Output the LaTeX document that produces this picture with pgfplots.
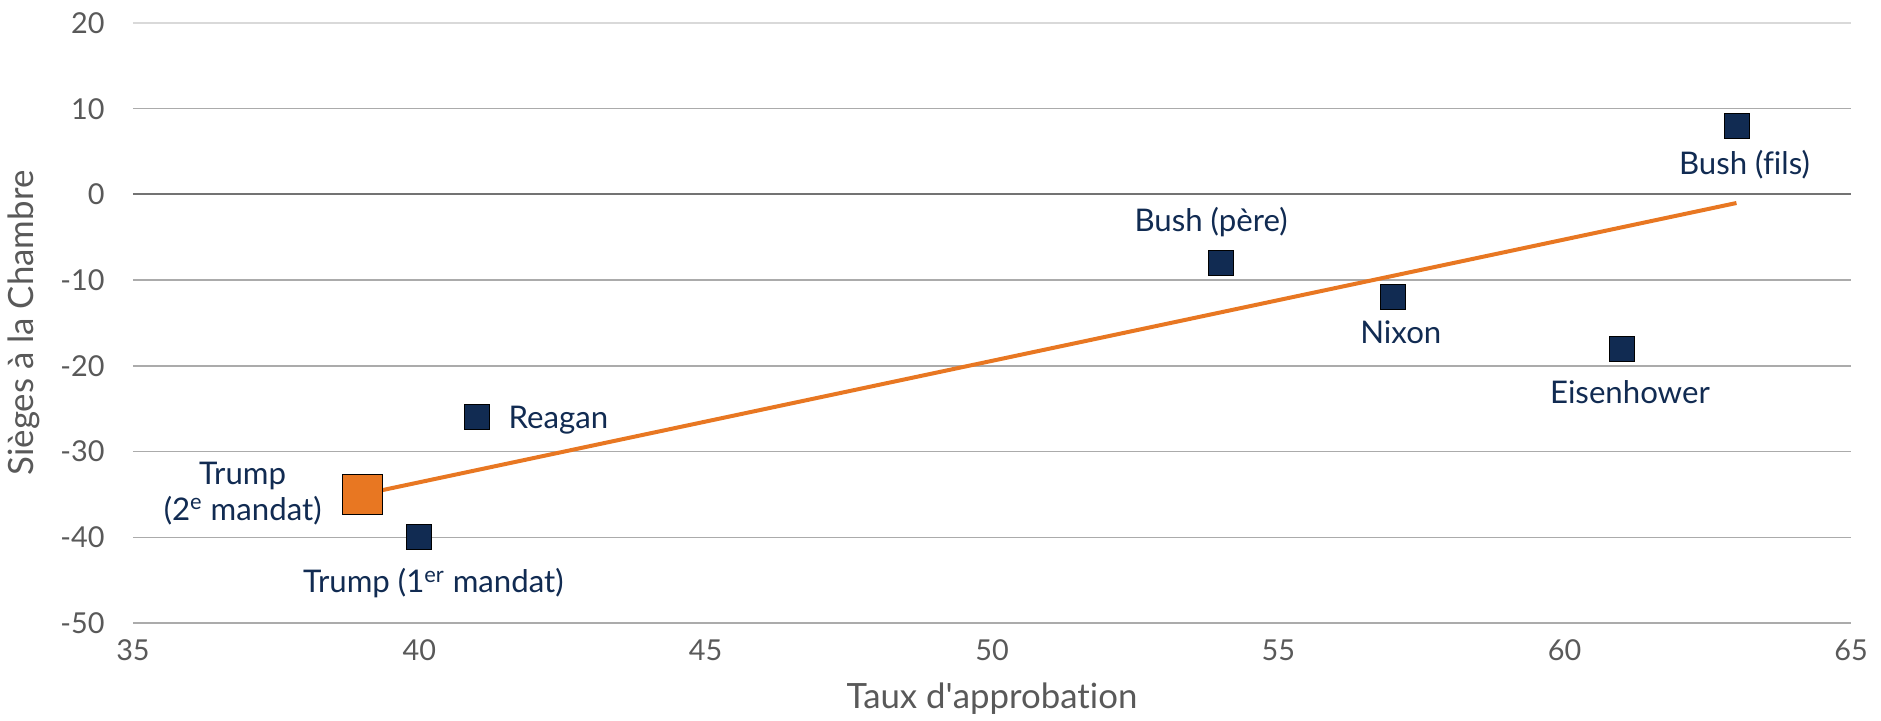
\documentclass[border=0pt]{standalone}
\usepackage{fontspec}
\setmainfont[Ligatures=NoCommon]{Lato}
\usepackage{pgfplots}
\pgfplotsset{compat=1.18}
\definecolor{navy}{HTML}{112B52}
\definecolor{orng}{HTML}{E87722}
\definecolor{tickgray}{HTML}{595959}
\definecolor{gridgray}{HTML}{ABABAB}
\definecolor{toplight}{HTML}{D9D9D9}
\definecolor{zerogray}{HTML}{737373}
\begin{document}
\begin{tikzpicture}
\path[use as bounding box] (-66.5pt,-49pt) rectangle ++(940.5pt,360.5pt);
\begin{axis}[
  at={(0,0)}, anchor=south west,
  scale only axis, width=859pt, height=300pt,
  xmin=35, xmax=65, ymin=-50, ymax=20,
  xtick={35,40,...,65}, ytick={-50,-40,...,10},
  extra y ticks={20},
  extra y tick style={grid style={toplight, line width=0.75pt}},
  ymajorgrids, grid style={gridgray, line width=0.75pt},
  axis line style={draw=none}, tick style={draw=none},
  /pgf/number format/assume math mode=true,
  ticklabel style={font=\fontsize{14.4}{17}\selectfont, text=tickgray},
  yticklabel style={anchor=east, inner sep=0pt, xshift=-14pt},
  xticklabel style={anchor=north, inner sep=0pt, yshift=-8pt},
  clip=false,
]
\draw[zerogray, line width=1pt] (axis cs:35,0) -- (axis cs:65,0);
% trend line
\addplot[orng, line width=2pt, no markers] coordinates {(39,-35) (63,-1)};
% presidents
\addplot[only marks, mark=square*, mark size=6.25pt, mark options={fill=navy, draw=none}] coordinates {
  (40,-40) (41,-26) (54,-8) (57,-12) (61,-18) (63,8)
};
% Trump 2nd term
\addplot[only marks, mark=square*, mark size=10pt, mark options={fill=orng, draw=none}] coordinates {(39,-35)};
\begin{scope}[every node/.style={font=\fontsize{15.6}{18}\selectfont, text=navy, inner sep=0pt}]
\node[anchor=base, xshift=4pt, yshift=-24.5pt] at (axis cs:63,8) {Bush (fils)};
\node[anchor=base, xshift=4pt, yshift=-27.3pt] at (axis cs:61,-18) {Eisenhower};
\node[anchor=base, xshift=-5pt, yshift=15.5pt] at (axis cs:54,-8) {Bush (père)};
\node[anchor=base, xshift=4pt, yshift=-23.3pt] at (axis cs:57,-12) {Nixon};
\node[anchor=base west, xshift=15.8pt, yshift=-5.6pt] at (axis cs:41,-26) {Reagan};
\node[anchor=base, xshift=-59.7pt, yshift=5.2pt] at (axis cs:39,-35) {Trump};
\node[anchor=base, xshift=-59.7pt, yshift=-12.8pt] at (axis cs:39,-35) {(2\textsuperscript{e} mandat)};
\node[anchor=base, xshift=7pt, yshift=-27.7pt] at (axis cs:40,-40) {Trump (1\textsuperscript{er} mandat)};
\end{scope}
\node[rotate=90, anchor=north, inner sep=0pt, font=\fontsize{17.4}{20}\selectfont, text=tickgray] at ([xshift=-63pt]rel axis cs:0,0.5) {Sièges à la Chambre};
\node[anchor=north, inner sep=0pt, font=\fontsize{17.4}{20}\selectfont, text=tickgray] at ([yshift=-29.5pt]rel axis cs:0.5,0) {Taux d\textquotesingle approbation};
\end{axis}
\end{tikzpicture}
\end{document}
